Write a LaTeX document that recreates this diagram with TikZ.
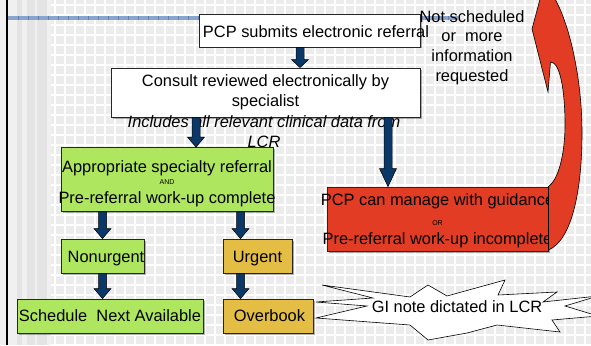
\documentclass[tikz,border=0pt]{standalone}
\usepackage{fontspec}
\setmainfont{Liberation Sans}
\usetikzlibrary{calc,shadows}
\definecolor{bgc}{RGB}{236,236,236}
\definecolor{navyc}{RGB}{10,56,105}
\definecolor{redc}{RGB}{226,61,36}
\definecolor{greenc}{RGB}{175,230,95}
\definecolor{goldc}{RGB}{227,189,68}
\definecolor{bandc}{RGB}{138,165,203}
\definecolor{bandd}{RGB}{95,127,175}
\newcommand\dnarrow[4][10pt]{%
  \draw[navyarrow] let \p1=(#3 -| #2), \p2=(#4 -| #2) in
    (\x1-4pt,\y1) -- (\x1+4pt,\y1) -- (\x1+4pt,\y2+#1) -- (\x1+8.5pt,\y2+#1)
    -- (\x2,\y2) -- (\x1-8.5pt,\y2+#1) -- (\x1-4pt,\y2+#1) -- cycle;}
\newcommand\lowered[2]{\raisebox{-#1}[\height][\depth]{#2}}
\begin{document}
\begin{tikzpicture}[x=1pt,y=-1pt,
  box/.style={draw=black!85, line width=0.8pt, inner sep=0pt, align=center,
    font=\fontsize{16.4}{19.5}\selectfont,
    drop shadow={shadow xshift=1.5pt, shadow yshift=-1.5pt, fill=black, opacity=0.3}},
  navyarrow/.style={fill=navyc, draw=black, line width=0.5pt},
  gridline/.style={white, line width=1.1pt},
  plaintext/.style={inner sep=0pt, align=center, font=\fontsize{16.4}{19.7}\selectfont},
  small/.style={font=\fontsize{7}{8}\selectfont}]
\useasboundingbox (0,0) rectangle (591,345);
\clip (0,0) rectangle (591,345);
% background
\fill[bgc] (0,0) rectangle (591,345);
\foreach \i in {55,65,...,585} \draw[gridline] (\i,0) -- (\i,345);
\foreach \j in {5,15,...,345} \draw[gridline] (50,\j) -- (591,\j);
\fill[gray!12] (0,0) rectangle (8,345);
\fill[gray!21] (8,0) rectangle (51,345);
\foreach \a/\b in {8/17,22/27,35/37,47/51} \fill[gray!12] (\a,0) rectangle (\b,345);
\fill[black] (6,0) rectangle (8.3,345);
% band
\fill[bandc] (8,16) rectangle (458,20.5);
\foreach \i in {18,28,...,448} \draw[bandd, line width=0.8pt] (\i,16) -- (\i,20.5);

% arrow x positions
\coordinate (ax1) at (300,0);
\coordinate (ax2) at (196,0);
\coordinate (ax3) at (388,0);
\coordinate (ax4) at (102.5,0);
\coordinate (ax5) at (240.5,0);

% boxes
\node[box, fill=white, minimum width=221pt, minimum height=33pt] (b1) at (309.5,30.5)
  {\makebox[0pt]{\hspace*{13pt}\lowered{1pt}{PCP submits electronic referral}}};
\node[box, fill=white, minimum width=309pt, minimum height=49pt] (b2) at (265.5,92.5)
  {Consult reviewed electronically by\\specialist};
\node[plaintext, anchor=north, font=\fontsize{16.4}{20.5}\selectfont\itshape] (incl) at (264,115)
  {Includes all relevant clinical data from\\LCR};
\node[box, fill=greenc, minimum width=212pt, minimum height=64pt] (appr) at (167,179.5)
  {\makebox[0pt]{\rule{0pt}{20pt}Appropriate specialty referral}\\[-7pt]
   \makebox[0pt]{\fontsize{7}{8}\selectfont AND}\\[-1pt]
   \makebox[0pt]{Pre-referral work-up complete}};
\node[box, fill=redc, minimum width=221pt, minimum height=64pt] (pcpm) at (437.5,219)
  {\makebox[0pt]{\rule{0pt}{16pt}PCP can manage with guidance}\\
   \makebox[0pt]{\fontsize{7}{8}\selectfont OR}\\
   \makebox[0pt]{Pre-referral work-up incomplete}};
\node[box, fill=greenc, minimum width=83pt, minimum height=34pt] (nonurg) at (102.5,256)
  {\makebox[0pt]{\hspace*{7pt}\lowered{3pt}{Nonurgent}}};
\node[box, fill=goldc, minimum width=69pt, minimum height=34pt] (urg) at (257.5,256)
  {\lowered{3pt}{Urgent}};
\node[box, fill=greenc, minimum width=186pt, minimum height=34pt] (sched) at (110,316)
  {\makebox[0pt]{Schedule\ \ Next Available}};
\node[box, fill=goldc, minimum width=90pt, minimum height=34pt] (overbook) at (268,316)
  {\makebox[0pt]{\hspace*{3pt}Overbook}};

% text at top right
\node[plaintext] (notsched) at (472,47.5) {Not scheduled\\or\ \ more\\information\\requested};

% red curved arrow
\draw[fill=redc, draw=black, line width=0.6pt]
  (548.5,186.5) .. controls (558,180) and (565,155) .. (565,125)
  .. controls (565,90) and (560,62) .. (550.5,62)
  -- (548,92) -- (532,29) -- (543,-12) -- (552,-6)
  .. controls (568,18) and (582,75) .. (582,133)
  .. controls (582,190) and (572,240) .. (548.5,250) -- cycle;

% block arrows
\dnarrow[8pt]{ax1}{b1.south}{b2.north}
\dnarrow[10pt]{ax2}{b2.south}{appr.north}
\dnarrow[18pt]{ax3}{b2.south}{pcpm.north}
\dnarrow[10pt]{ax4}{appr.south}{nonurg.north}
\dnarrow[10pt]{ax5}{appr.south}{urg.north}
\dnarrow[10pt]{ax4}{nonurg.south}{sched.north}
\dnarrow[10pt]{ax5}{urg.south}{overbook.north}

% starburst
\draw[fill=white, draw=black, line width=0.6pt]
  (322,285) -- (410,297) -- (428,285) -- (447,296) -- (505,280) -- (498,295)
  -- (557,292) -- (543,302) -- (598,296) -- (565,306) -- (598,316) -- (552,320)
  -- (560,332) -- (497,325) -- (467,333) -- (428,340) -- (410,325) -- (316,318)
  -- (367,306) -- (316,302) -- (373,298) -- cycle;
\node[plaintext] (note) at (457,307) {GI note dictated in LCR};
\end{tikzpicture}
\end{document}
